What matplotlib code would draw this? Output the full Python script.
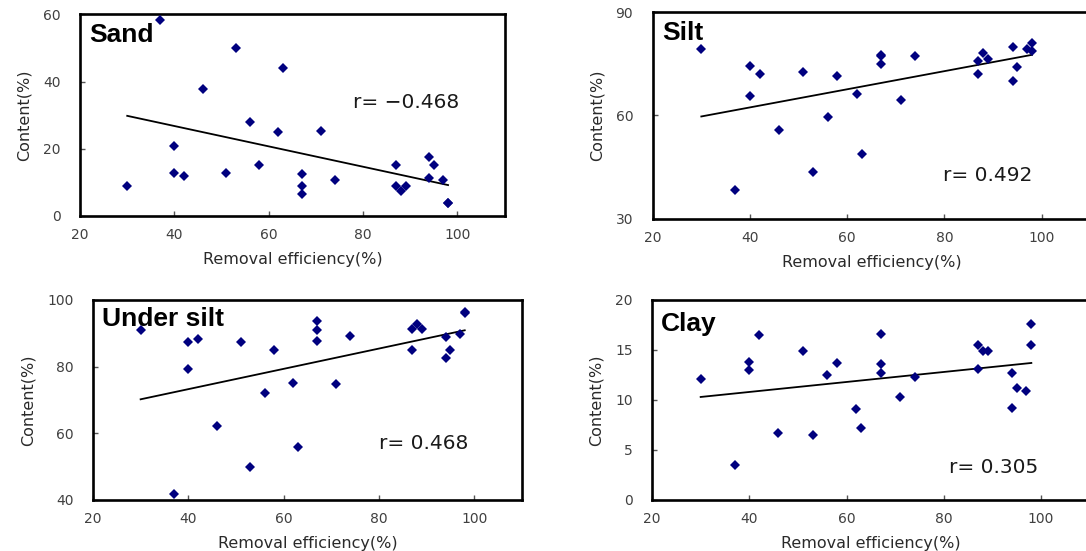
import matplotlib
matplotlib.use("Agg")
import matplotlib.pyplot as plt

# cores e estilo
NAVY = "#00007F"
TICK_COR = "#404040"
LABEL_COR = "#2A2A2A"

plt.rcParams.update({
    "font.family": "DejaVu Sans",
    "axes.linewidth": 1.9,
})

# dados (eficiencia de remocao x teor)
sand_x = [30, 37, 40, 40, 42, 46, 51, 53, 56, 58, 62, 63, 67, 67, 67, 71, 74,
          87, 87, 88, 89, 94, 94, 95, 97, 98, 98]
sand_y = [9.0, 58.2, 20.7, 12.8, 11.9, 37.7, 12.8, 50.0, 28.1, 15.1, 25.0, 44.0,
          12.6, 9.0, 6.5, 25.2, 10.8, 15.1, 8.8, 7.4, 8.8, 17.5, 11.2, 15.1,
          10.6, 4.0, 3.8]

silt_x = [30, 37, 40, 40, 42, 46, 51, 53, 56, 58, 62, 63, 67, 67, 67, 71, 74,
          87, 87, 88, 89, 94, 94, 95, 97, 98, 98]
silt_y = [79.2, 38.4, 74.5, 65.6, 72.0, 55.7, 72.5, 43.7, 59.5, 71.5, 66.1, 48.8,
          77.5, 77.2, 74.8, 64.5, 77.2, 75.8, 72.0, 78.2, 76.3, 79.9, 69.9, 74.0,
          79.2, 81.0, 78.6]

under_x = [30, 37, 40, 40, 42, 46, 51, 53, 56, 58, 62, 63, 67, 67, 67, 71, 74,
           87, 87, 88, 89, 94, 94, 95, 97, 98, 98]
under_y = [91.0, 41.8, 87.4, 79.4, 88.2, 62.3, 87.4, 50.0, 72.0, 85.1, 75.1, 56.0,
           93.6, 91.0, 87.6, 74.7, 89.3, 91.3, 85.1, 92.8, 91.2, 89.0, 82.5, 85.1,
           89.7, 96.2, 96.4]

clay_x = [30, 37, 40, 40, 42, 46, 51, 53, 56, 58, 62, 63, 67, 67, 67, 71, 74,
          87, 87, 88, 89, 94, 94, 95, 97, 98, 98]
clay_y = [12.1, 3.5, 13.8, 13.0, 16.5, 6.7, 14.9, 6.5, 12.5, 13.7, 9.1, 7.2,
          16.6, 13.6, 12.7, 10.3, 12.3, 15.5, 13.1, 14.9, 14.9, 12.7, 9.2, 11.2,
          10.9, 17.6, 15.5]

# linhas de tendencia (pontos extremos)
trend_x = [30, 98]
sand_trend = [29.8, 9.2]
silt_trend = [59.7, 77.6]
under_trend = [70.2, 90.9]
clay_trend = [10.3, 13.7]

titulos = ["Sand", "Silt", "Under silt", "Clay"]
r_textos = ["r= \u22120.468", "r= 0.492", "r= 0.468", "r= 0.305"]
y_ticks = [[0, 20, 40, 60], [30, 60, 90], [40, 60, 80, 100], [0, 5, 10, 15, 20]]
x_ticks = [20, 40, 60, 80, 100]

fig = plt.figure(figsize=(10.86, 5.51), dpi=100)

# posicoes [left, bottom, width, height]
posicoes = [
    [0.0737, 0.608, 0.391, 0.366],
    [0.601, 0.603, 0.403, 0.375],
    [0.0856, 0.0926, 0.395, 0.363],
    [0.6004, 0.0926, 0.403, 0.363],
]
r_pos = [(0.642, 0.561), (0.664, 0.208), (0.666, 0.282), (0.678, 0.16)]
titulo_y = [0.955, 0.955, 0.965, 0.94]

series = [
    (sand_x, sand_y, sand_trend),
    (silt_x, silt_y, silt_trend),
    (under_x, under_y, under_trend),
    (clay_x, clay_y, clay_trend),
]

for i, (xs, ys, tr) in enumerate(series):
    ax = fig.add_axes(posicoes[i])
    ax.plot(xs, ys, linestyle="none", marker="D", markersize=4.7,
            color=NAVY, markeredgewidth=0, zorder=3)
    ax.plot(trend_x, tr, color="black", linewidth=1.3, zorder=2)

    ax.set_xlim(20, 110)
    ax.set_ylim(y_ticks[i][0], y_ticks[i][-1])
    ax.set_xticks(x_ticks)
    ax.set_yticks(y_ticks[i])
    ax.tick_params(axis="both", direction="in", length=3.5, width=1,
                   labelsize=10, labelcolor=TICK_COR, color="#555555")
    ax.tick_params(axis="x", pad=9)
    ax.tick_params(axis="y", pad=14)

    ax.set_xlabel("Removal efficiency(%)", fontsize=11.5, color=LABEL_COR, labelpad=7)
    ax.set_ylabel("Content(%)", fontsize=11.5, color=LABEL_COR, labelpad=8)

    ax.text(0.021, titulo_y[i], titulos[i], transform=ax.transAxes,
            fontsize=19, fontweight="bold", family="Liberation Sans",
            ha="left", va="top", color="black")
    ax.text(r_pos[i][0], r_pos[i][1], r_textos[i], transform=ax.transAxes,
            fontsize=14.5, ha="left", va="center", color="#1A1A1A")

fig.savefig("out.png", dpi=100)
